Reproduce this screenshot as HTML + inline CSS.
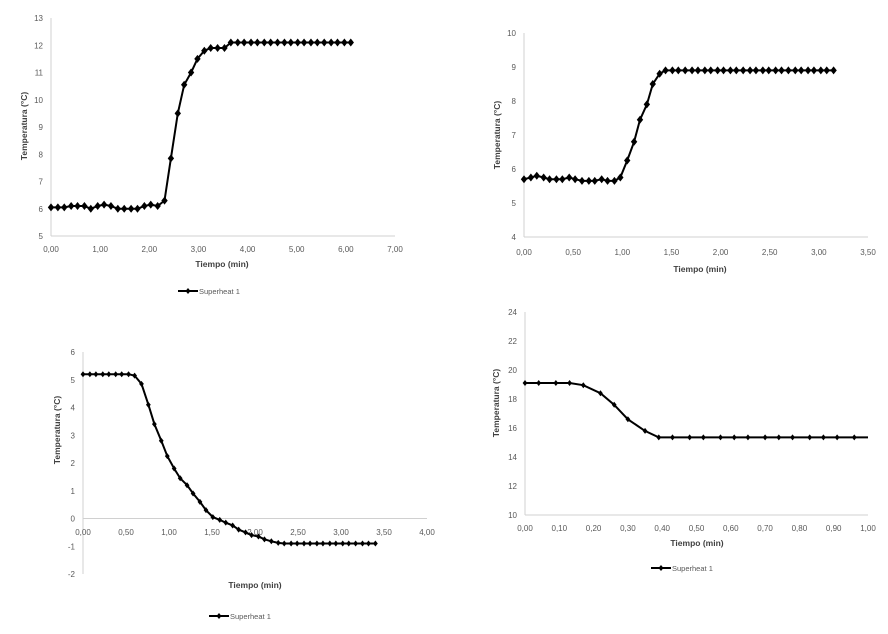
<!DOCTYPE html>
<html><head><meta charset="utf-8"><style>
html,body{margin:0;padding:0;background:#fff}
svg{display:block;font-family:"Liberation Sans",sans-serif}
.tk{font-size:8px;fill:#595959}
.ttl{font-size:8.5px;font-weight:bold;fill:#404040}
.lg{font-size:7.5px;fill:#595959}
</style></head><body>
<svg id="s" width="888" height="634" viewBox="0 0 888 634"></svg>
<script>
const c1Times=[0,0.14,0.27,0.41,0.54,0.68,0.81,0.95,1.08,1.22,1.36,1.49,1.63,1.76,1.9,2.03,2.17,2.31,2.44,2.58,2.71,2.85,2.98,3.12,3.25,3.39,3.53,3.66,3.8,3.93,4.07,4.2,4.34,4.47,4.61,4.75,4.88,5.02,5.15,5.29,5.42,5.56,5.7,5.83,5.97,6.1];
const c1Values=[6.05,6.05,6.05,6.1,6.1,6.1,6.0,6.1,6.15,6.1,6.0,6.0,6.0,6.0,6.1,6.15,6.1,6.3,7.85,9.5,10.55,11.0,11.5,11.8,11.9,11.9,11.9,12.1,12.1,12.1,12.1,12.1,12.1,12.1,12.1,12.1,12.1,12.1,12.1,12.1,12.1,12.1,12.1,12.1,12.1,12.1];
const c1XTicks=["0,00","1,00","2,00","3,00","4,00","5,00","6,00","7,00"];
const c1YTicks=["5","6","7","8","9","10","11","12","13"];

const c2Times=[0,0.07,0.13,0.2,0.26,0.33,0.39,0.46,0.52,0.59,0.66,0.72,0.79,0.85,0.92,0.98,1.05,1.12,1.18,1.25,1.31,1.38,1.44,1.51,1.57,1.64,1.71,1.77,1.84,1.9,1.97,2.03,2.1,2.16,2.23,2.3,2.36,2.43,2.49,2.56,2.62,2.69,2.76,2.82,2.89,2.95,3.02,3.08,3.15];
const c2Values=[5.7,5.75,5.8,5.75,5.7,5.7,5.7,5.75,5.7,5.65,5.65,5.65,5.7,5.65,5.65,5.75,6.25,6.8,7.45,7.9,8.5,8.8,8.9,8.9,8.9,8.9,8.9,8.9,8.9,8.9,8.9,8.9,8.9,8.9,8.9,8.9,8.9,8.9,8.9,8.9,8.9,8.9,8.9,8.9,8.9,8.9,8.9,8.9,8.9];
const c2XTicks=["0,00","0,50","1,00","1,50","2,00","2,50","3,00","3,50"];
const c2YTicks=["4","5","6","7","8","9","10"];

const c3Times=[0,0.08,0.15,0.23,0.3,0.38,0.45,0.53,0.6,0.68,0.76,0.83,0.91,0.98,1.06,1.13,1.21,1.28,1.36,1.43,1.51,1.59,1.66,1.74,1.81,1.89,1.96,2.04,2.11,2.19,2.27,2.34,2.42,2.49,2.57,2.64,2.72,2.79,2.87,2.94,3.02,3.09,3.17,3.25,3.32,3.4];
const c3Values=[5.2,5.2,5.2,5.2,5.2,5.2,5.2,5.2,5.15,4.85,4.1,3.4,2.8,2.25,1.8,1.45,1.2,0.9,0.6,0.3,0.05,-0.05,-0.15,-0.25,-0.4,-0.5,-0.6,-0.65,-0.75,-0.82,-0.88,-0.9,-0.9,-0.9,-0.9,-0.9,-0.9,-0.9,-0.9,-0.9,-0.9,-0.9,-0.9,-0.9,-0.9,-0.9];
const c3XTicks=["0,00","0,50","1,00","1,50","2,00","2,50","3,00","3,50","4,00"];
const c3YTicks=["-2","-1","0","1","2","3","4","5","6"];

const c4Times=[0,0.04,0.09,0.13,0.17,0.22,0.26,0.3,0.35,0.39,0.43,0.48,0.52,0.57,0.61,0.65,0.7,0.74,0.78,0.83,0.87,0.91,0.96];
const c4Values=[19.1,19.1,19.1,19.1,18.95,18.4,17.6,16.6,15.8,15.35,15.35,15.35,15.35,15.35,15.35,15.35,15.35,15.35,15.35,15.35,15.35,15.35,15.35];
const c4XTicks=["0,00","0,10","0,20","0,30","0,40","0,50","0,60","0,70","0,80","0,90","1,00"];
const c4YTicks=["10","12","14","16","18","20","22","24"];

const NS="http://www.w3.org/2000/svg";
const svg=document.getElementById('s');
function mk(tag,attrs,parent,text){const e=document.createElementNS(NS,tag);for(const k in attrs)e.setAttribute(k,attrs[k]);if(text!==undefined)e.textContent=text;(parent||svg).appendChild(e);return e;}

function chart(o){
  const g=mk('g',{});
  
  
  const xs=v=>o.x0+(v-o.xmin)/(o.xmax-o.xmin)*(o.x1-o.x0);
  const ys=v=>o.yb+(v-o.ymin)/(o.ymax-o.ymin)*(o.yt-o.yb);
  const ya=mk('line',{x1:o.x0,y1:o.yt,x2:o.x0,y2:o.yb,stroke:'#d0d0d0','stroke-width':1},g);
  
  
  const xaY=ys(o.xAxisAt);
  const xa=mk('line',{x1:o.x0,y1:xaY,x2:o.x1,y2:xaY,stroke:'#d0d0d0','stroke-width':1},g);
  
  
  o.yTicks.forEach((t,i)=>{
    const v=o.ymin+i*(o.ymax-o.ymin)/(o.yTicks.length-1);
    const e=mk('text',{x:o.x0-8,y:ys(v)+3,'text-anchor':'end',class:'tk'},g,t);
    
    
  });
  o.xTicks.forEach((t,i)=>{
    const v=o.xmin+i*(o.xmax-o.xmin)/(o.xTicks.length-1);
    const e=mk('text',{x:xs(v),y:o.xLabelY,'text-anchor':'middle',class:'tk'},g,t);
    
    
  });
  const xt=mk('text',{x:o.xTitleX,y:o.xTitleY,'text-anchor':'middle',class:'ttl'},g,'Tiempo (min)');
  
  
  const yt=mk('text',{x:0,y:0,'text-anchor':'middle',class:'ttl',transform:`translate(${o.yTitleX},${o.yTitleY}) rotate(-90)`},g,'Temperatura (°C)');
  
  
  let pts=o.t.map((t,i)=>xs(t).toFixed(1)+','+ys(o.v[i]).toFixed(1));
  if(o.extendTo!==undefined)pts.push(xs(o.extendTo).toFixed(1)+','+ys(o.v[o.v.length-1]).toFixed(1));
  const ln=mk('polyline',{points:pts.join(' '),fill:'none',stroke:'#000','stroke-width':2},g);
  
  
  const m=o.mk;
  o.t.forEach((t,i)=>{
    const cx=xs(t),cy=ys(o.v[i]);
    const d=mk('polygon',{points:`${cx},${cy-m} ${cx+m*0.8},${cy} ${cx},${cy+m} ${cx-m*0.8},${cy}`,fill:'#000'},g);
    
    
  });
  if(o.legend){
    const lg=mk('g',{},g);
    
    
    const [lx,ly]=o.legend;
    mk('line',{x1:lx,y1:ly,x2:lx+20,y2:ly,stroke:'#000','stroke-width':2},lg);
    mk('polygon',{points:`${lx+10},${ly-3} ${lx+12.5},${ly} ${lx+10},${ly+3} ${lx+7.5},${ly}`,fill:'#000'},lg);
    mk('text',{x:lx+21,y:ly+3,class:'lg'},lg,'Superheat 1');
  }
}
chart({name:'chart-top-left',x0:51,x1:395,yt:18,yb:236,xmin:0,xmax:7,ymin:5,ymax:13,xAxisAt:5,
  yTicks:c1YTicks,xTicks:c1XTicks,xLabelY:252,xTitleX:222,xTitleY:267,yTitleX:27,yTitleY:126,
  t:c1Times,v:c1Values,mk:4,legend:[178,291]});
chart({name:'chart-top-right',x0:524,x1:868,yt:33,yb:237,xmin:0,xmax:3.5,ymin:4,ymax:10,xAxisAt:4,
  yTicks:c2YTicks,xTicks:c2XTicks,xLabelY:255,xTitleX:700,xTitleY:272,yTitleX:500,yTitleY:135,
  t:c2Times,v:c2Values,mk:4});
chart({name:'chart-bottom-left',x0:83,x1:427,yt:352,yb:574,xmin:0,xmax:4,ymin:-2,ymax:6,xAxisAt:0,
  yTicks:c3YTicks,xTicks:c3XTicks,xLabelY:535,xTitleX:255,xTitleY:588,yTitleX:60,yTitleY:430,
  t:c3Times,v:c3Values,mk:3,legend:[209,616]});
chart({name:'chart-bottom-right',x0:525,x1:868,yt:312,yb:515,xmin:0,xmax:1,ymin:10,ymax:24,xAxisAt:10,
  yTicks:c4YTicks,xTicks:c4XTicks,xLabelY:531,xTitleX:697,xTitleY:546,yTitleX:499,yTitleY:403,
  t:c4Times,v:c4Values,mk:3,extendTo:1,legend:[651,568]});
</script>
</body></html>
